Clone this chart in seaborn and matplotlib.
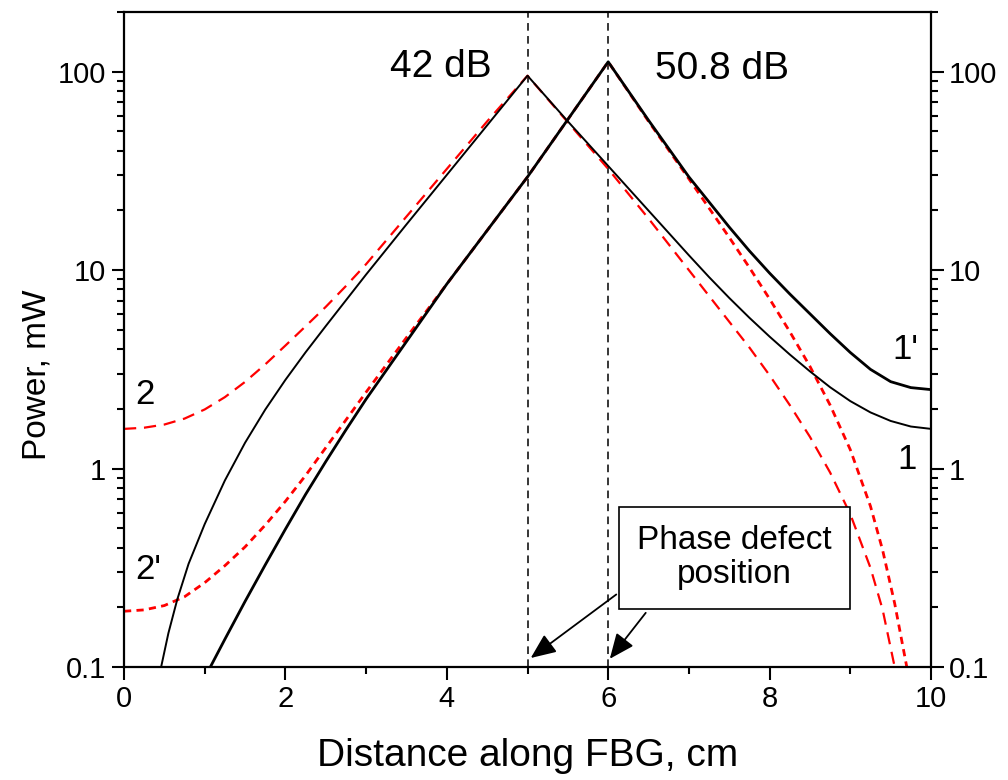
import numpy as np
import pandas as pd
import matplotlib
matplotlib.use("Agg")
import matplotlib.pyplot as plt
from matplotlib.ticker import FixedLocator, NullFormatter, LogLocator
import seaborn as sns

# ---- data ----
# curve 1 (black, thin, peak at 5 cm)
x_1 = [0.46, 0.55, 0.66, 0.8, 1.0, 1.25, 1.5, 1.75, 2.0, 2.25, 2.5, 2.75, 3.0, 3.5, 4.0, 4.5, 5.0,
       5.5, 6.0, 6.5, 7.0, 7.25, 7.5, 7.75, 8.0, 8.25, 8.5, 8.75, 9.0, 9.25, 9.5, 9.75, 10.0]
p_1 = [0.1, 0.148, 0.219, 0.331, 0.525, 0.871, 1.349, 1.982, 2.799, 3.855, 5.224, 7.047, 9.506, 17.0,
       30.2, 53.7, 95.5,
       56.2, 33.5, 19.95, 11.885, 9.226, 7.244, 5.754, 4.624, 3.758, 3.090, 2.570, 2.188, 1.919,
       1.738, 1.629, 1.585]
# curve 1' (black, thick, peak at 6 cm)
x_1p = [1.07, 1.25, 1.5, 1.75, 2.0, 2.25, 2.5, 2.75, 3.0, 3.5, 4.0, 4.5, 5.0, 5.5, 6.0,
        6.5, 7.0, 7.5, 7.75, 8.0, 8.25, 8.5, 8.75, 9.0, 9.25, 9.5, 9.75, 10.0]
p_1p = [0.1, 0.138, 0.214, 0.327, 0.495, 0.741, 1.084, 1.567, 2.239, 4.365, 8.511, 15.85, 29.51, 57.5, 112.2,
        56.9, 29.5, 16.48, 12.5, 9.66, 7.586, 6.026, 4.786, 3.846, 3.162, 2.742, 2.559, 2.50]
# curve 2 (red, long dashes, peak at 5 cm)
x_2 = [0, 0.25, 0.5, 0.75, 1.0, 1.25, 1.5, 1.75, 2.0, 2.25, 2.5, 2.75, 3.0, 3.5, 4.0, 4.5, 5.0,
       5.5, 6.0, 6.5, 7.0, 7.5, 7.75, 8.0, 8.25, 8.5, 8.75, 9.0, 9.25, 9.4, 9.55]
p_2 = [1.585, 1.607, 1.667, 1.786, 1.986, 2.291, 2.735, 3.350, 4.169, 5.212, 6.531, 8.318, 10.72, 18.62,
       32.36, 56.2, 95.5,
       55.6, 32.36, 18.2, 10.0, 5.495, 4.074, 2.951, 2.089, 1.445, 0.955, 0.589, 0.316, 0.195, 0.1]
# curve 2' (red, short dashes, peak at 6 cm)
x_2p = [0, 0.25, 0.5, 0.75, 1.0, 1.25, 1.5, 1.75, 2.0, 2.25, 2.5, 2.75, 3.0, 3.5, 4.0, 4.5, 5.0, 5.5, 6.0,
        6.5, 7.0, 7.5, 7.75, 8.0, 8.25, 8.5, 8.75, 9.0, 9.25, 9.4, 9.55, 9.7]
p_2p = [0.191, 0.194, 0.204, 0.226, 0.266, 0.324, 0.403, 0.519, 0.684, 0.923, 1.274, 1.758, 2.427, 4.571,
        8.511, 15.85, 29.51, 57.5, 112.2,
        56.2, 28.84, 14.62, 10.30, 7.161, 4.898, 3.273, 2.089, 1.245, 0.646, 0.389, 0.209, 0.1]

defect_positions = [5, 6]
x_ticks = [0, 2, 4, 6, 8, 10]
x_minor = [1, 3, 5, 7, 9]
y_ticks = [0.1, 1, 10, 100]
y_ticklabels = ["0.1", "1", "10", "100"]

sns.set_theme(style="ticks")
plt.rcParams["font.family"] = ["Liberation Sans", "DejaVu Sans"]
plt.rcParams["text.color"] = "black"
plt.rcParams["axes.labelcolor"] = "black"
plt.rcParams["xtick.color"] = "black"
plt.rcParams["ytick.color"] = "black"

fig = plt.figure(figsize=(10.08, 7.8), dpi=100)
ax = fig.add_axes([124 / 1008, 1 - 667 / 780, (931 - 124) / 1008, (667 - 12) / 780])

red = "#ff0000"
df2 = pd.DataFrame({"x": x_2, "p": p_2})
df2p = pd.DataFrame({"x": x_2p, "p": p_2p})
df1 = pd.DataFrame({"x": x_1, "p": p_1})
df1p = pd.DataFrame({"x": x_1p, "p": p_1p})

sns.lineplot(data=df2, x="x", y="p", ax=ax, color=red, lw=1.6, sort=False, estimator=None)
ax.lines[-1].set_dashes((5.5, 3.5))
sns.lineplot(data=df2p, x="x", y="p", ax=ax, color=red, lw=2.0, sort=False, estimator=None)
ax.lines[-1].set_dashes((2.6, 1.9))
sns.lineplot(data=df1, x="x", y="p", ax=ax, color="black", lw=1.4, sort=False, estimator=None)
sns.lineplot(data=df1p, x="x", y="p", ax=ax, color="black", lw=2.0, sort=False, estimator=None)
for ln in ax.lines:
    ln.set_solid_joinstyle("round")

for xd in defect_positions:
    ax.axvline(xd, color="black", lw=1.1, dashes=(5, 3.5), zorder=1)

ax.set_yscale("log")
ax.set_xlim(0, 10)
ax.set_ylim(0.1, 200)

ax.xaxis.set_major_locator(FixedLocator(x_ticks))
ax.xaxis.set_minor_locator(FixedLocator(x_minor))
ax.yaxis.set_major_locator(FixedLocator(y_ticks))
ax.set_yticklabels(y_ticklabels)
ax.yaxis.set_minor_locator(LogLocator(base=10, subs=np.arange(2, 10)))
ax.yaxis.set_minor_formatter(NullFormatter())

for s in ax.spines.values():
    s.set_linewidth(1.6)
    s.set_color("black")
    s.set_visible(True)

ax.tick_params(which="major", direction="out", length=9, width=1.5, labelsize=21,
               colors="black", pad=4)
ax.tick_params(which="minor", direction="out", length=5, width=1.5, colors="black")
ax.tick_params(axis="y", which="both", left=True, right=True, labelleft=True, labelright=True)
ax.tick_params(axis="x", which="both", top=False, bottom=True)

ax.set_xlabel("Distance along FBG, cm", fontsize=28)
ax.xaxis.set_label_coords(0.5, -0.108)
ax.set_ylabel("Power, mW", fontsize=24)
ax.yaxis.set_label_coords(-0.088, 0.446)

ax.text(3.93, 106, "42 dB", fontsize=28, ha="center", va="center")
ax.text(7.41, 103.5, "50.8 dB", fontsize=28, ha="center", va="center")
ax.text(0.26, 2.36, "2", fontsize=25, ha="center", va="center")
ax.text(0.30, 0.31, "2'", fontsize=25, ha="center", va="center")
ax.text(9.68, 3.98, "1'", fontsize=25, ha="center", va="center")
ax.text(9.70, 1.11, "1", fontsize=25, ha="center", va="center")

ax.text(7.565, 0.355, "Phase defect\nposition", fontsize=24, ha="center", va="center",
        linespacing=1.12,
        bbox=dict(boxstyle="square,pad=0.55", fc="white", ec="black", lw=1.2))

arrow_kw = dict(arrowstyle="-|>,head_length=0.7,head_width=0.3", color="black", lw=1.3,
                mutation_scale=22, shrinkA=0, shrinkB=0)
ax.annotate("", xy=(5.04, 0.111), xytext=(6.10, 0.232), arrowprops=arrow_kw)
ax.annotate("", xy=(6.02, 0.11), xytext=(6.465, 0.1875), arrowprops=arrow_kw)

fig.savefig("out.png", dpi=100)
